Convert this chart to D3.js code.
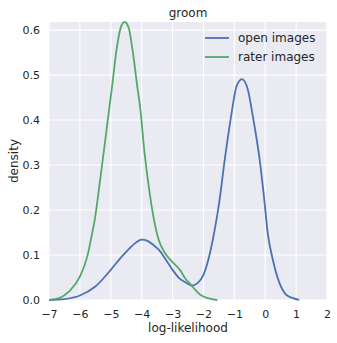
<!DOCTYPE html>
<html>
<head>
<meta charset="utf-8">
<script src="https://cdn.jsdelivr.net/npm/d3@7"></script>
<style>
  html, body { margin: 0; padding: 0; background: #ffffff; }
  svg { display: block; }
  text { font-family: "DejaVu Sans", sans-serif; fill: #262626; }
</style>
</head>
<body>
<svg id="chart" width="337" height="343"></svg>
<script>
// ---- data ----
const title = "groom";
const xLabel = "log-likelihood";
const yLabel = "density";
const seriesNames = ["open images", "rater images"];
const seriesColors = ["#4C72B0", "#55A868"];

const openX = [-7.0, -6.5, -6.0, -5.5, -5.0, -4.7, -4.4, -4.2, -4.0, -3.8, -3.6, -3.45, -3.2, -3.0,
               -2.76, -2.6, -2.38, -2.2, -2.0, -1.79, -1.58, -1.5, -1.31, -1.09, -0.93, -0.75,
               -0.56, -0.38, -0.18, -0.02, 0.08, 0.245, 0.46, 0.675, 0.9, 1.1];
const openY = [0.000, 0.002, 0.010, 0.030, 0.067, 0.092, 0.114, 0.127, 0.134, 0.131, 0.121, 0.112, 0.088, 0.067,
               0.047, 0.040, 0.032, 0.037, 0.056, 0.104, 0.178, 0.212, 0.312, 0.415, 0.475, 0.491,
               0.467, 0.400, 0.312, 0.216, 0.149, 0.090, 0.038, 0.012, 0.004, 0.000];

const raterX = [-7.0, -6.67, -6.35, -6.0, -5.76, -5.6, -5.52, -5.33, -5.19, -5.07, -4.95, -4.82, -4.68,
                -4.55, -4.42, -4.29, -4.15, -4.02, -3.94, -3.77, -3.6, -3.45, -3.24, -2.97, -2.76,
                -2.6, -2.38, -2.27, -2.11, -1.85, -1.55];
const raterY = [0.000, 0.004, 0.019, 0.052, 0.097, 0.149, 0.178, 0.275, 0.349, 0.415, 0.479, 0.553, 0.605,
                0.618, 0.605, 0.553, 0.479, 0.410, 0.349, 0.252, 0.178, 0.134, 0.104, 0.082, 0.067,
                0.049, 0.032, 0.023, 0.012, 0.004, 0.000];

const xTicks = [-7, -6, -5, -4, -3, -2, -1, 0, 1, 2];
const yTicks = [0.0, 0.1, 0.2, 0.3, 0.4, 0.5, 0.6];

// ---- layout ----
const margin = { left: 49, right: 10, top: 22, bottom: 43 };
const W = 337, H = 343;
const svg = d3.select("#chart");

const x = d3.scaleLinear().domain([-7, 2]).range([margin.left, W - margin.right]);
const yMax = d3.max([...openY, ...raterY]);
const y = d3.scaleLinear().domain([0, yMax]).range([H - margin.bottom, margin.top]);

// background
svg.append("rect")
  .attr("x", x.range()[0]).attr("y", y.range()[1])
  .attr("width", x.range()[1] - x.range()[0])
  .attr("height", y.range()[0] - y.range()[1])
  .attr("fill", "#EAEAF2");

// grid
const grid = svg.append("g");
grid.selectAll("line.v").data(xTicks).enter().append("line")
  .attr("x1", d => x(d)).attr("x2", d => x(d))
  .attr("y1", y.range()[1]).attr("y2", y.range()[0])
  .attr("stroke", "#ffffff").attr("stroke-width", 1.1);
grid.selectAll("line.h").data(yTicks).enter().append("line")
  .attr("x1", x.range()[0]).attr("x2", x.range()[1])
  .attr("y1", d => y(d)).attr("y2", d => y(d))
  .attr("stroke", "#ffffff").attr("stroke-width", 1.1);

// axes (no ticks / domain, labels only)
const xAxis = d3.axisBottom(x).tickValues(xTicks).tickSize(0).tickPadding(10)
  .tickFormat(d => d3.format("d")(d));
const gx = svg.append("g").attr("transform", `translate(0,${y.range()[0]})`).call(xAxis);
gx.select(".domain").remove();
gx.selectAll("text").attr("font-size", 11).attr("font-family", "DejaVu Sans").attr("fill", "#262626");

const yAxis = d3.axisLeft(y).tickValues(yTicks).tickSize(0).tickPadding(9)
  .tickFormat(d3.format(".1f"));
const gy = svg.append("g").attr("transform", `translate(${x.range()[0]},0)`).call(yAxis);
gy.select(".domain").remove();
gy.selectAll("text").attr("font-size", 11).attr("font-family", "DejaVu Sans").attr("fill", "#262626");

// curves
const line = d3.line().x(d => x(d[0])).y(d => y(d[1])).curve(d3.curveMonotoneX);
const series = [d3.zip(openX, openY), d3.zip(raterX, raterY)];
series.forEach((s, i) => {
  svg.append("path").datum(s)
    .attr("d", line)
    .attr("fill", "none")
    .attr("stroke", seriesColors[i])
    .attr("stroke-width", 1.8)
    .attr("stroke-linejoin", "round");
});

// title
svg.append("text")
  .attr("x", (x.range()[0] + x.range()[1]) / 2).attr("y", 17)
  .attr("text-anchor", "middle").attr("font-size", 12)
  .text(title);

// axis labels
svg.append("text")
  .attr("x", (x.range()[0] + x.range()[1]) / 2).attr("y", 332)
  .attr("text-anchor", "middle").attr("font-size", 12)
  .text(xLabel);
svg.append("text")
  .attr("transform", `translate(18,${(y.range()[0] + y.range()[1]) / 2}) rotate(-90)`)
  .attr("text-anchor", "middle").attr("font-size", 12)
  .text(yLabel);

// legend
const legend = svg.append("g");
seriesNames.forEach((name, i) => {
  const ly = 38 + i * 19;
  legend.append("line")
    .attr("x1", 205).attr("x2", 229).attr("y1", ly).attr("y2", ly)
    .attr("stroke", seriesColors[i]).attr("stroke-width", 1.8);
  legend.append("text")
    .attr("x", 238).attr("y", ly).attr("dy", "0.35em")
    .attr("font-size", 12)
    .text(name);
});
</script>
</body>
</html>
